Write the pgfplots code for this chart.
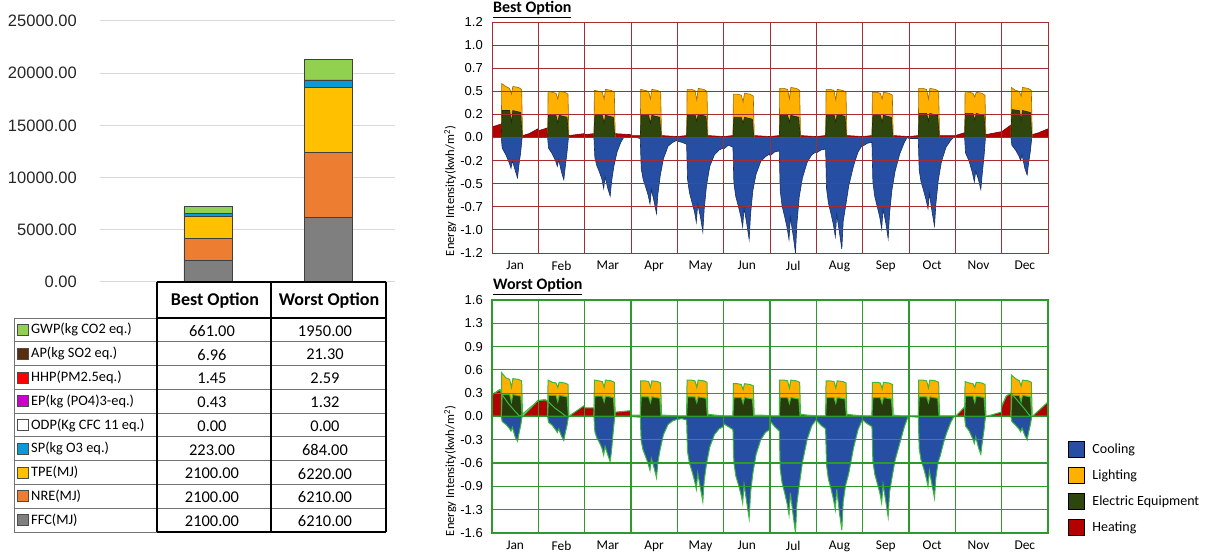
\documentclass[border=0pt]{standalone}
\usepackage{fontspec}
\setmainfont{Carlito}
\newfontfamily\arialf{Liberation Sans}
\usepackage{pgfplots}
\pgfplotsset{compat=1.18}
\definecolor{cffc}{HTML}{7F7F7F}
\definecolor{cnre}{HTML}{ED7D31}
\definecolor{ctpe}{HTML}{FFC000}
\definecolor{csp}{HTML}{0A9AD8}
\definecolor{cgwp}{HTML}{92D050}
\definecolor{cap}{HTML}{5A2D0C}
\definecolor{chhp}{HTML}{FF0000}
\definecolor{cep}{HTML}{CC00CC}
\definecolor{ccool}{HTML}{264FA3}
\definecolor{clight}{HTML}{FFB000}
\definecolor{cequip}{HTML}{2E460E}
\definecolor{cheat}{HTML}{B30000}
\definecolor{bgrid}{HTML}{A52D32}
\definecolor{wgrid}{HTML}{2E9A2E}
\definecolor{wline}{HTML}{3DB83D}
\begin{document}
\begin{tikzpicture}[x=1pt,y=1pt]
\useasboundingbox (0,0) rectangle (1208,554);

% ---------------- left stacked bar chart ----------------
\begin{axis}[at={(100pt,272pt)}, anchor=south west, scale only axis,
  width=295pt, height=261pt, xmin=0, xmax=1, ymin=0, ymax=25000,
  ybar stacked, bar width=48pt, bar shift=0pt,
  axis line style={draw=none}, tick style={draw=none},
  xtick=\empty, ytick={0,5000,10000,15000,20000,25000},
  yticklabels={0.00,5000.00,10000.00,15000.00,20000.00,25000.00},
  scaled y ticks=false,
  ymajorgrids, major grid style={black!15, line width=1pt},
  yticklabel style={font=\fontsize{16.5}{18}\arialf, text=black!85, anchor=east, inner sep=0pt, xshift=-23pt},
  every axis plot/.append style={draw=black!75, line width=0.9pt}]
\addplot[fill=cffc] coordinates {(0.366,2100) (0.773,6210)};
\addplot[fill=cnre] coordinates {(0.366,2100) (0.773,6210)};
\addplot[fill=ctpe] coordinates {(0.366,2100) (0.773,6220)};
\addplot[fill=csp] coordinates {(0.366,223) (0.773,684)};
\addplot[fill=white] coordinates {(0.366,0) (0.773,0)};
\addplot[fill=cep] coordinates {(0.366,0.43) (0.773,1.32)};
\addplot[fill=chhp] coordinates {(0.366,1.45) (0.773,2.59)};
\addplot[fill=cap] coordinates {(0.366,6.96) (0.773,21.30)};
\addplot[fill=cgwp] coordinates {(0.366,661) (0.773,1950)};
\end{axis}

% ---------------- table ----------------
\foreach \yy in {236,212.2,188.4,164.7,140.9,117.1,93.3,69.5,45.8,22}
  \draw[black!55, line width=0.8pt] (14,\yy) -- (386,\yy);
\draw[black!55, line width=0.8pt] (14,236) -- (14,22);
\draw[black, line width=1.6pt] (157,272) -- (386,272);
\draw[black, line width=1.6pt] (157,236) -- (386,236);
\draw[black, line width=1.4pt] (157,22) -- (386,22);
\foreach \xx in {157,271,386}
  \draw[black, line width=1.6pt] (\xx,272) -- (\xx,22);
\node[font=\fontsize{18}{20}\selectfont\bfseries] at (215,253) {Best Option};
\node[font=\fontsize{18}{20}\selectfont\bfseries] at (329,253) {Worst Option};
\begin{scope}[every node/.style={font=\fontsize{14.4}{16}\selectfont, anchor=west, inner sep=0pt}]
\newcommand\trow[5]{%
  \filldraw[fill=#2, draw=black!70, line width=0.8pt] (17.5,#1-5.5) rectangle (28.5,#1+5.5);
  \node at (31,#1) {#3};
  \node[anchor=center, font=\fontsize{16.4}{18}\selectfont] at (212,#1-1) {#4};
  \node[anchor=center, font=\fontsize{16.4}{18}\selectfont] at (325,#1-1) {#5};}
\trow{224.1}{cgwp}{GWP(kg CO2 eq.)}{661.00}{1950.00}
\trow{200.3}{cap}{AP(kg SO2 eq.)}{6.96}{21.30}
\trow{176.5}{chhp}{HHP(PM2.5eq.)}{1.45}{2.59}
\trow{152.8}{cep}{EP(kg (PO4)3-eq.)}{0.43}{1.32}
\trow{129.0}{white}{ODP(Kg CFC 11 eq.)}{0.00}{0.00}
\trow{105.2}{csp}{SP(kg O3 eq.)}{223.00}{684.00}
\trow{81.4}{ctpe}{TPE(MJ)}{2100.00}{6220.00}
\trow{57.6}{cnre}{NRE(MJ)}{2100.00}{6210.00}
\trow{33.9}{cffc}{FFC(MJ)}{2100.00}{6210.00}
\end{scope}

% ---------------- titles ----------------
\node[anchor=base west, inner sep=0pt, font=\fontsize{16}{18}\selectfont\bfseries] at (493,541) {\underline{Best Option}};
\node[anchor=base west, inner sep=0pt, font=\fontsize{16}{18}\selectfont\bfseries] at (493,264) {\underline{Worst Option}};

\pgfplotsset{energy/.style={scale only axis, width=556pt, xmin=0, xmax=12,
  axis on top, enlargelimits=false,
  xtick={0.5,1.5,2.5,3.5,4.5,5.5,6.5,7.5,8.5,9.5,10.5,11.5},
  xticklabels={Jan,Feb,Mar,Apr,May,Jun,Jul,Aug,Sep,Oct,Nov,Dec},
  minor xtick={1,2,3,4,5,6,7,8,9,10,11}, xminorgrids=true, xmajorgrids=false, ymajorgrids=true,
  tick style={draw=none}, major tick length=0pt, minor tick length=0pt,
  xticklabel style={font=\fontsize{13.4}{14}\selectfont, anchor=north, inner sep=0pt, yshift=-8pt},
  yticklabel style={font=\fontsize{13}{14}\arialf, anchor=east, inner sep=0pt, xshift=-9pt},
  ylabel={Energy Intensity(kwh/m\textsuperscript{2})},
  ylabel style={font=\fontsize{12.5}{13}\selectfont, anchor=center}}}

% ---------------- best option area chart ----------------
\begin{axis}[energy, at={(492pt,301pt)}, anchor=south west, height=231pt,
  ymin=-1.2, ymax=1.2,
  ytick={-1.2,-0.96,-0.72,-0.48,-0.24,0,0.24,0.48,0.72,0.96,1.2},
  yticklabels={-1.2,-1.0,-0.7,-0.5,-0.2,0.0,0.2,0.5,0.7,1.0,1.2},
  axis line style={bgrid, line width=0.9pt},
  grid style={bgrid, line width=0.9pt}, minor grid style={bgrid, line width=0.9pt},
  ylabel style={at={(axis description cs:-0.075,0.268)}}]
\addplot[fill=cheat, draw=cheat!70!black, line width=0.6pt] coordinates {
(0,0.11)(0.20,0.14)(0.23,0.03)(0.62,0.03)(0.66,0.02)(0.80,0.04)(0.99,0.09)
(1.00,0.07)(1.20,0.10)(1.23,0.03)(1.62,0.03)(1.66,0.02)(1.99,0.04)
(2.00,0.03)(2.20,0.04)(2.23,0.02)(2.62,0.02)(2.66,0.04)(2.99,0.03)
(3.00,0.02)(3.20,0.02)(3.23,0.01)(3.62,0.01)(3.66,0.02)(3.99,0.01)
(4.00,0.01)(4.20,0.02)(4.23,0.01)(4.62,0.01)(4.66,0.02)(4.99,0.01)
(5.00,0.01)(5.20,0.02)(5.23,0.01)(5.62,0.01)(5.66,0.02)(5.99,0.01)
(6.00,0.01)(6.20,0.02)(6.23,0.01)(6.62,0.01)(6.66,0.02)(6.99,0.01)
(7.00,0.01)(7.20,0.02)(7.23,0.01)(7.62,0.01)(7.66,0.02)(7.99,0.01)
(8.00,0.01)(8.20,0.02)(8.23,0.01)(8.62,0.01)(8.66,0.02)(8.99,0.01)
(9.00,0.01)(9.20,0.02)(9.23,0.01)(9.62,0.01)(9.66,0.02)(9.99,0.02)
(10.00,0.02)(10.20,0.05)(10.23,0.03)(10.62,0.03)(10.66,0.03)(10.99,0.06)
(11.00,0.06)(11.20,0.13)(11.23,0.03)(11.62,0.03)(11.66,0.03)(11.80,0.05)(12.00,0.09)} \closedcycle;
\addplot[fill=clight, draw=clight!60!black, line width=0.6pt] coordinates {(0,0)
(0.20,0)(0.21,0.56)(0.30,0.53)(0.38,0.51)(0.42,0.45)(0.45,0.53)(0.57,0.52)(0.64,0.50)(0.66,0)
(1.20,0)(1.21,0.48)(1.30,0.47)(1.38,0.46)(1.42,0.40)(1.45,0.48)(1.57,0.47)(1.64,0.45)(1.66,0)
(2.20,0)(2.21,0.49)(2.30,0.48)(2.38,0.47)(2.42,0.40)(2.45,0.50)(2.57,0.49)(2.64,0.47)(2.66,0)
(3.20,0)(3.21,0.50)(3.30,0.49)(3.38,0.48)(3.42,0.40)(3.45,0.50)(3.57,0.49)(3.64,0.47)(3.66,0)
(4.20,0)(4.21,0.50)(4.30,0.50)(4.38,0.49)(4.42,0.39)(4.45,0.51)(4.57,0.50)(4.64,0.48)(4.66,0)
(5.20,0)(5.21,0.45)(5.30,0.45)(5.38,0.44)(5.42,0.37)(5.45,0.46)(5.57,0.45)(5.64,0.43)(5.66,0)
(6.20,0)(6.21,0.51)(6.30,0.51)(6.38,0.50)(6.42,0.40)(6.45,0.52)(6.57,0.51)(6.64,0.49)(6.66,0)
(7.20,0)(7.21,0.50)(7.30,0.50)(7.38,0.49)(7.42,0.39)(7.45,0.50)(7.57,0.49)(7.64,0.47)(7.66,0)
(8.20,0)(8.21,0.47)(8.30,0.47)(8.38,0.46)(8.42,0.40)(8.45,0.47)(8.57,0.46)(8.64,0.44)(8.66,0)
(9.20,0)(9.21,0.51)(9.30,0.51)(9.38,0.50)(9.42,0.40)(9.45,0.51)(9.57,0.50)(9.64,0.48)(9.66,0)
(10.20,0)(10.21,0.48)(10.30,0.47)(10.38,0.46)(10.42,0.42)(10.45,0.47)(10.57,0.46)(10.64,0.44)(10.66,0)
(11.20,0)(11.21,0.52)(11.30,0.49)(11.38,0.48)(11.42,0.43)(11.45,0.52)(11.57,0.51)(11.64,0.49)(11.66,0)(12,0)} \closedcycle;
\addplot[fill=cequip, draw=cequip!60!black, line width=0.6pt] coordinates {(0,0)
(0.20,0)(0.22,0.28)(0.38,0.28)(0.42,0.16)(0.45,0.28)(0.62,0.26)(0.65,0)
(1.20,0)(1.22,0.23)(1.38,0.23)(1.42,0.15)(1.45,0.23)(1.62,0.21)(1.65,0)
(2.20,0)(2.22,0.23)(2.38,0.23)(2.42,0.15)(2.45,0.23)(2.62,0.21)(2.65,0)
(3.20,0)(3.22,0.23)(3.38,0.23)(3.42,0.15)(3.45,0.23)(3.62,0.21)(3.65,0)
(4.20,0)(4.22,0.24)(4.38,0.24)(4.42,0.17)(4.45,0.24)(4.62,0.22)(4.65,0)
(5.20,0)(5.22,0.21)(5.38,0.21)(5.42,0.15)(5.45,0.21)(5.62,0.19)(5.65,0)
(6.20,0)(6.22,0.23)(6.38,0.23)(6.42,0.16)(6.45,0.23)(6.62,0.21)(6.65,0)
(7.20,0)(7.22,0.24)(7.38,0.24)(7.42,0.16)(7.45,0.24)(7.62,0.22)(7.65,0)
(8.20,0)(8.22,0.23)(8.38,0.23)(8.42,0.16)(8.45,0.23)(8.62,0.21)(8.65,0)
(9.20,0)(9.22,0.25)(9.38,0.25)(9.42,0.17)(9.45,0.25)(9.62,0.23)(9.65,0)
(10.20,0)(10.22,0.25)(10.38,0.25)(10.42,0.18)(10.45,0.25)(10.62,0.23)(10.65,0)
(11.20,0)(11.22,0.29)(11.38,0.28)(11.42,0.18)(11.45,0.28)(11.62,0.26)(11.65,0)(12,0)} \closedcycle;
\addplot[fill=ccool, draw=ccool!60!black, line width=0.6pt] coordinates {(0,0)
(0.20,0)(0.22,-0.11)(0.30,-0.18)(0.37,-0.26)(0.41,-0.32)(0.44,-0.24)(0.50,-0.34)(0.55,-0.42)(0.58,-0.29)(0.62,-0.15)(0.65,0)
(1.20,0)(1.22,-0.11)(1.30,-0.17)(1.37,-0.24)(1.41,-0.30)(1.44,-0.23)(1.50,-0.36)(1.55,-0.44)(1.58,-0.31)(1.62,-0.15)(1.65,0)
(2.20,0)(2.22,-0.21)(2.26,-0.29)(2.32,-0.36)(2.37,-0.43)(2.41,-0.53)(2.44,-0.41)(2.50,-0.53)(2.55,-0.61)(2.58,-0.46)(2.63,-0.30)(2.70,-0.15)(2.78,-0.05)(2.84,0)
(3.00,0)(3.10,0)(3.20,-0.01)(3.22,-0.32)(3.26,-0.43)(3.32,-0.52)(3.37,-0.60)(3.41,-0.69)(3.44,-0.54)(3.50,-0.67)(3.55,-0.79)(3.58,-0.59)(3.63,-0.40)(3.70,-0.22)(3.80,-0.09)(3.90,-0.05)(3.99,-0.03)
(4.00,-0.04)(4.10,-0.05)(4.20,-0.07)(4.22,-0.43)(4.26,-0.57)(4.32,-0.68)(4.37,-0.77)(4.41,-0.88)(4.44,-0.69)(4.50,-0.83)(4.55,-0.98)(4.58,-0.74)(4.63,-0.50)(4.70,-0.30)(4.80,-0.18)(4.90,-0.13)(4.99,-0.11)
(5.00,-0.12)(5.10,-0.08)(5.20,-0.10)(5.22,-0.47)(5.26,-0.61)(5.32,-0.72)(5.37,-0.82)(5.41,-0.93)(5.44,-0.73)(5.50,-0.90)(5.55,-1.06)(5.58,-0.80)(5.63,-0.55)(5.70,-0.38)(5.80,-0.25)(5.90,-0.20)(5.99,-0.17)
(6.00,-0.19)(6.10,-0.15)(6.20,-0.14)(6.22,-0.55)(6.26,-0.71)(6.32,-0.83)(6.37,-0.94)(6.41,-1.06)(6.44,-0.83)(6.50,-1.02)(6.55,-1.20)(6.58,-0.90)(6.63,-0.62)(6.70,-0.42)(6.80,-0.26)(6.90,-0.18)(6.99,-0.15)
(7.00,-0.16)(7.10,-0.13)(7.20,-0.12)(7.22,-0.53)(7.26,-0.68)(7.32,-0.80)(7.37,-0.91)(7.41,-1.03)(7.44,-0.80)(7.50,-0.99)(7.55,-1.16)(7.58,-0.87)(7.63,-0.72)(7.70,-0.50)(7.80,-0.30)(7.90,-0.15)(7.99,-0.08)
(8.00,-0.09)(8.10,-0.06)(8.20,-0.05)(8.22,-0.46)(8.26,-0.61)(8.32,-0.73)(8.37,-0.83)(8.41,-0.95)(8.44,-0.74)(8.50,-0.89)(8.55,-1.05)(8.58,-0.79)(8.63,-0.55)(8.70,-0.35)(8.80,-0.17)(8.90,-0.05)(8.96,0)
(9.00,-0.01)(9.10,-0.01)(9.20,-0.01)(9.22,-0.34)(9.26,-0.46)(9.32,-0.56)(9.37,-0.65)(9.41,-0.74)(9.44,-0.58)(9.50,-0.78)(9.55,-0.92)(9.58,-0.69)(9.63,-0.45)(9.70,-0.25)(9.80,-0.10)(9.90,-0.03)(9.96,0)
(10.20,0)(10.22,-0.16)(10.30,-0.25)(10.37,-0.37)(10.41,-0.46)(10.44,-0.35)(10.50,-0.44)(10.55,-0.54)(10.58,-0.38)(10.62,-0.19)(10.65,0)
(11.20,0)(11.22,-0.08)(11.30,-0.13)(11.37,-0.19)(11.41,-0.24)(11.44,-0.18)(11.50,-0.32)(11.55,-0.39)(11.58,-0.27)(11.62,-0.14)(11.65,0)(12,0)} \closedcycle;
\end{axis}

% ---------------- worst option area chart ----------------
\begin{axis}[energy, at={(492pt,21pt)}, anchor=south west, height=233pt,
  ymin=-1.6, ymax=1.6,
  ytick={-1.6,-1.28,-0.96,-0.64,-0.32,0,0.32,0.64,0.96,1.28,1.6},
  yticklabels={-1.6,-1.3,-0.9,-0.6,-0.3,0.0,0.3,0.6,0.9,1.3,1.6},
  axis line style={wgrid, line width=1.2pt},
  grid style={wgrid, line width=1.2pt}, minor grid style={wgrid, line width=1.2pt},
  ylabel style={at={(axis description cs:-0.075,0.266)}},
  legend style={at={(axis description cs:1.036,0.395)}, anchor=north west, draw=none, fill=none,
    font=\fontsize{14}{16}\selectfont, inner sep=0pt, row sep=8.7pt,
    nodes={inner sep=0pt}},
  legend cell align=left,
  legend image code/.code={\draw[#1, draw=black, line width=1.2pt] (0pt,-8pt) rectangle (16pt,8pt);},
  /tikz/every odd column/.append style={column sep=7pt}]
\addlegendimage{fill=ccool}\addlegendentry{Cooling}
\addlegendimage{fill=clight}\addlegendentry{Lighting}
\addlegendimage{fill=cequip}\addlegendentry{Electric Equipment}
\addlegendimage{fill=cheat}\addlegendentry{Heating}
\addplot[forget plot, fill=cheat, draw=wline, line width=1pt] coordinates {
(0,0.30)(0.10,0.34)(0.17,0.37)(0.22,0.30)(0.35,0.18)(0.50,0.07)(0.60,0)(0.65,0)(0.80,0.09)(0.99,0.22)
(1.00,0.22)(1.15,0.23)(1.22,0.20)(1.35,0.12)(1.50,0.05)(1.60,0)(1.65,0)(1.99,0.15)
(2.00,0.12)(2.18,0.12)(2.25,0.10)(2.40,0.05)(2.55,0.02)(2.62,0.04)(2.66,0.06)(2.99,0.08)
(3.00,0.02)(3.20,0.02)(3.62,0.01)(3.66,0.02)(3.99,0.01)
(4.00,0.01)(4.20,0.01)(4.66,0.03)(4.80,0.02)(4.99,0.01)
(5.00,0.01)(5.20,0.01)(5.66,0.02)(5.80,0.02)(5.99,0.01)
(6.00,0.01)(6.20,0.01)(6.66,0.03)(6.80,0.02)(6.99,0.01)
(7.00,0.01)(7.20,0.01)(7.66,0.03)(7.80,0.02)(7.99,0.01)
(8.00,0.01)(8.20,0.01)(8.66,0.02)(8.80,0.01)(8.99,0.01)
(9.00,0.01)(9.20,0.01)(9.66,0.01)(9.99,0.01)
(10.00,0)(10.20,0.13)(10.30,0.10)(10.55,0.02)(10.62,0)(10.66,0)(10.99,0.06)
(11.00,0.14)(11.10,0.28)(11.20,0.32)(11.30,0.25)(11.50,0.10)(11.62,0)(11.66,0)(12.00,0.20)} \closedcycle;
\addplot[forget plot, fill=clight, draw=wline, line width=1pt] coordinates {(0,0)
(0.20,0)(0.21,0.60)(0.30,0.53)(0.38,0.51)(0.42,0.40)(0.45,0.52)(0.57,0.51)(0.64,0.49)(0.66,0)
(1.20,0)(1.21,0.50)(1.30,0.47)(1.38,0.46)(1.42,0.40)(1.45,0.47)(1.57,0.46)(1.64,0.44)(1.66,0)
(2.20,0)(2.21,0.50)(2.30,0.49)(2.38,0.48)(2.42,0.40)(2.45,0.50)(2.57,0.49)(2.64,0.47)(2.66,0)
(3.20,0)(3.21,0.49)(3.30,0.49)(3.38,0.48)(3.42,0.40)(3.45,0.49)(3.57,0.48)(3.64,0.46)(3.66,0)
(4.20,0)(4.21,0.50)(4.30,0.50)(4.38,0.49)(4.42,0.40)(4.45,0.50)(4.57,0.49)(4.64,0.47)(4.66,0)
(5.20,0)(5.21,0.45)(5.30,0.45)(5.38,0.44)(5.42,0.37)(5.45,0.45)(5.57,0.44)(5.64,0.42)(5.66,0)
(6.20,0)(6.21,0.50)(6.30,0.50)(6.38,0.49)(6.42,0.39)(6.45,0.50)(6.57,0.49)(6.64,0.47)(6.66,0)
(7.20,0)(7.21,0.49)(7.30,0.49)(7.38,0.48)(7.42,0.39)(7.45,0.49)(7.57,0.48)(7.64,0.46)(7.66,0)
(8.20,0)(8.21,0.47)(8.30,0.47)(8.38,0.46)(8.42,0.38)(8.45,0.47)(8.57,0.46)(8.64,0.44)(8.66,0)
(9.20,0)(9.21,0.50)(9.30,0.50)(9.38,0.49)(9.42,0.39)(9.45,0.50)(9.57,0.49)(9.64,0.47)(9.66,0)
(10.20,0)(10.21,0.48)(10.30,0.46)(10.38,0.45)(10.42,0.40)(10.45,0.47)(10.57,0.46)(10.64,0.44)(10.66,0)
(11.20,0)(11.21,0.57)(11.30,0.52)(11.38,0.49)(11.42,0.42)(11.45,0.50)(11.57,0.49)(11.64,0.47)(11.66,0)(12,0)} \closedcycle;
\addplot[forget plot, fill=cequip!85!black, draw=wline, line width=1pt] coordinates {(0,0)
(0.20,0)(0.22,0.30)(0.38,0.30)(0.42,0.20)(0.45,0.30)(0.62,0.28)(0.65,0)
(1.20,0)(1.22,0.29)(1.38,0.29)(1.42,0.20)(1.45,0.29)(1.62,0.27)(1.65,0)
(2.20,0)(2.22,0.28)(2.38,0.28)(2.42,0.20)(2.45,0.28)(2.62,0.26)(2.65,0)
(3.20,0)(3.22,0.27)(3.38,0.27)(3.42,0.19)(3.45,0.27)(3.62,0.25)(3.65,0)
(4.20,0)(4.22,0.27)(4.38,0.27)(4.42,0.19)(4.45,0.27)(4.62,0.25)(4.65,0)
(5.20,0)(5.22,0.26)(5.38,0.26)(5.42,0.18)(5.45,0.26)(5.62,0.24)(5.65,0)
(6.20,0)(6.22,0.26)(6.38,0.26)(6.42,0.18)(6.45,0.26)(6.62,0.24)(6.65,0)
(7.20,0)(7.22,0.26)(7.38,0.26)(7.42,0.18)(7.45,0.26)(7.62,0.24)(7.65,0)
(8.20,0)(8.22,0.26)(8.38,0.26)(8.42,0.18)(8.45,0.26)(8.62,0.24)(8.65,0)
(9.20,0)(9.22,0.27)(9.38,0.27)(9.42,0.19)(9.45,0.27)(9.62,0.25)(9.65,0)
(10.20,0)(10.22,0.28)(10.38,0.28)(10.42,0.19)(10.45,0.28)(10.62,0.26)(10.65,0)
(11.20,0)(11.22,0.29)(11.38,0.29)(11.42,0.20)(11.45,0.29)(11.62,0.27)(11.65,0)(12,0)} \closedcycle;
\addplot[forget plot, draw=wline, line width=1pt] coordinates {
(0,0.30)(0.10,0.34)(0.17,0.37)(0.22,0.30)(0.35,0.18)(0.50,0.07)(0.60,0)
(1.00,0.22)(1.15,0.23)(1.22,0.20)(1.35,0.12)(1.50,0.05)(1.60,0)};
\addplot[forget plot, draw=wline, line width=1pt] coordinates {
(11.00,0.14)(11.10,0.28)(11.20,0.32)(11.30,0.25)(11.50,0.10)(11.62,0)};
\addplot[forget plot, fill=ccool, draw=wline, line width=1pt] coordinates {(0,0)
(0.20,0)(0.22,-0.07)(0.30,-0.11)(0.37,-0.16)(0.41,-0.20)(0.44,-0.15)(0.50,-0.28)(0.55,-0.34)(0.58,-0.24)(0.62,-0.12)(0.65,0)
(1.20,0)(1.22,-0.08)(1.30,-0.12)(1.37,-0.18)(1.41,-0.22)(1.44,-0.17)(1.50,-0.27)(1.55,-0.33)(1.58,-0.23)(1.62,-0.12)(1.65,0)
(2.20,0)(2.22,-0.21)(2.26,-0.29)(2.32,-0.36)(2.37,-0.43)(2.41,-0.53)(2.44,-0.41)(2.50,-0.53)(2.55,-0.62)(2.58,-0.47)(2.62,-0.18)(2.65,0)
(3.00,0)(3.20,-0.01)(3.22,-0.34)(3.26,-0.46)(3.32,-0.56)(3.37,-0.65)(3.41,-0.74)(3.44,-0.58)(3.50,-0.71)(3.55,-0.84)(3.58,-0.63)(3.63,-0.45)(3.70,-0.25)(3.80,-0.11)(3.90,-0.06)(3.99,-0.04)
(4.00,-0.04)(4.10,-0.03)(4.20,-0.05)(4.22,-0.48)(4.26,-0.64)(4.32,-0.76)(4.37,-0.88)(4.41,-1.00)(4.44,-0.78)(4.50,-0.99)(4.55,-1.17)(4.58,-0.88)(4.63,-0.65)(4.70,-0.42)(4.80,-0.25)(4.90,-0.17)(4.99,-0.14)
(5.00,-0.10)(5.10,-0.14)(5.20,-0.18)(5.22,-0.63)(5.26,-0.81)(5.32,-0.94)(5.37,-1.06)(5.41,-1.19)(5.44,-0.93)(5.50,-1.19)(5.55,-1.40)(5.58,-1.05)(5.63,-0.78)(5.70,-0.52)(5.80,-0.32)(5.90,-0.22)(5.99,-0.18)
(6.00,-0.06)(6.10,-0.14)(6.20,-0.20)(6.22,-0.72)(6.26,-0.91)(6.32,-1.06)(6.37,-1.20)(6.41,-1.35)(6.44,-1.05)(6.50,-1.36)(6.55,-1.60)(6.58,-1.20)(6.63,-0.95)(6.70,-0.63)(6.80,-0.32)(6.90,-0.13)(6.99,-0.05)
(7.00,-0.05)(7.10,-0.12)(7.20,-0.17)(7.22,-0.67)(7.26,-0.86)(7.32,-1.00)(7.37,-1.14)(7.41,-1.28)(7.44,-1.00)(7.50,-1.33)(7.55,-1.56)(7.58,-1.17)(7.63,-0.95)(7.70,-0.78)(7.80,-0.44)(7.90,-0.18)(7.99,-0.05)
(8.00,-0.05)(8.10,-0.10)(8.20,-0.14)(8.22,-0.61)(8.26,-0.79)(8.32,-0.93)(8.37,-1.05)(8.41,-1.19)(8.44,-0.93)(8.50,-1.17)(8.55,-1.38)(8.58,-1.04)(8.63,-0.85)(8.70,-0.60)(8.80,-0.37)(8.90,-0.14)(8.97,-0.02)(8.99,0)
(9.00,0)(9.20,-0.01)(9.22,-0.44)(9.26,-0.60)(9.32,-0.72)(9.37,-0.84)(9.41,-0.96)(9.44,-0.75)(9.50,-0.95)(9.55,-1.12)(9.58,-0.84)(9.63,-0.62)(9.67,-0.55)(9.75,-0.35)(9.81,-0.23)(9.90,-0.08)(9.96,-0.01)(9.99,0)
(10.20,0)(10.22,-0.13)(10.30,-0.20)(10.37,-0.30)(10.41,-0.37)(10.44,-0.28)(10.50,-0.43)(10.55,-0.52)(10.58,-0.36)(10.62,-0.18)(10.65,0)
(11.20,0)(11.22,-0.07)(11.30,-0.12)(11.37,-0.17)(11.41,-0.21)(11.44,-0.16)(11.50,-0.26)(11.55,-0.32)(11.58,-0.22)(11.62,-0.11)(11.65,0)(12,0)} \closedcycle;
\end{axis}
\end{tikzpicture}
\end{document}
